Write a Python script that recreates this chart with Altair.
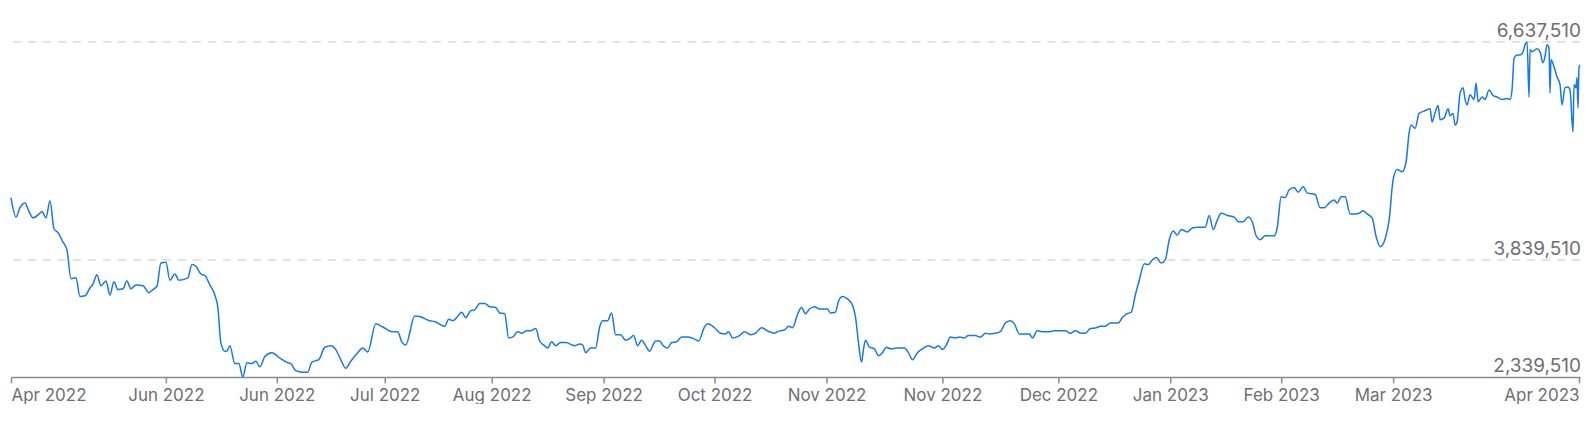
import altair as alt
import pandas as pd

# observation index (position along the series) and value in millions
t = [0, 1.25, 2.25, 3.5, 4.5, 5.5, 7.25, 7.75, 8.75, 9.75, 10.75, 11.75, 13, 14, 15, 16.25, 17.25, 18.5,
     19.75, 20.5, 21.5, 22.5, 23.75, 24.75, 25.75, 26.75, 28, 29, 30, 31.25, 33, 34.5, 35.5, 36.5, 37.5,
     38.75, 39.75, 41, 42, 44.25, 45.25, 46.25, 47.5, 48.5, 49.75, 51, 51.75, 52.5, 53.5, 54, 54.75, 56,
     57, 58, 59, 60.25, 61.25, 62.25, 63.5, 65.25, 67.25, 69.25, 70, 71.25, 73, 74.25, 75.25, 77, 78.5,
     80, 81.25, 82.5, 83.75, 85, 86.75, 88, 89.25, 91.25, 93, 95.25, 96.75, 97.75,
     98.75, 101, 102.5, 104.75, 106, 108.5, 109.5, 110.5, 111.5, 112.75, 113.75, 115, 116, 117.25, 118.5,
     119.75, 121.25, 122.25, 123.5, 124.5, 125.5, 126.75, 127.75, 129, 130, 131.25, 132.25, 133.25,
     134.25, 135.25, 136.25, 137.5, 138.75, 141, 142.25, 143, 143.75, 145, 146.25, 147.25, 148, 149.25,
     150.25, 151.25, 152.5, 153.75, 154.75, 155.75, 156.75, 157.75, 158.75, 159.75, 161.25, 162.25, 163,
     164.25, 165.25, 166.5, 167.75, 169.25, 170.75, 172, 173.5, 174.25, 176, 177.5, 178.75, 179.5, 180.5,
     182.25, 183.5, 185, 186.25, 187.75, 189.25, 191, 192.25, 193.5, 194.5, 195.5, 196.75, 197.75,
     198.75, 199.75, 201, 202.25, 204.25, 205, 206.25, 207, 208, 209.25, 210.5, 211.25, 212, 212.75,
     213.25, 213.75, 214.75, 216, 217, 218, 219, 220, 221.75, 223.5, 224.5, 225.5, 226.75, 228.25, 229.5,
     231, 232, 233, 234, 235, 236.25, 237.25, 238.5, 239.5, 241.25, 242.5, 243.75, 244.75, 246.25, 247.5,
     248.75, 250, 251, 252.25, 253.5, 254.75, 255.5, 256.75, 258, 259.75, 261, 263.75, 265, 266.25,
     267.75, 268.75, 270, 271.5, 272.5, 273.75, 275, 277, 278, 279.25, 280.25, 281.25, 282.25, 283.5,
     284.5, 285.5, 286.5, 287.75, 288.75, 289.75, 290.75, 291.75, 292.75, 294.25, 295.5, 296.75, 297.75,
     298.75, 299.75, 300.75, 301.75, 302.75, 304.25, 306, 307, 308.25, 309.5, 310.5, 311.5, 312.5,
     313.75, 316, 316.75, 317.75, 318.75, 319.75, 321, 322, 323.25, 324.25, 326.25, 327.5, 328.5, 329.75,
     331, 331.75, 332.75, 333.75, 335, 336.25, 337.25, 338.25, 339.25, 340.5, 341.5, 342.5, 343.75,
     344.75, 345.75, 346.75, 348, 349, 349.75, 350.25, 351.25, 352.25, 353.5, 355, 355.5, 356.25, 357,
     357.5, 358.5, 359.5, 360, 360.75, 361.25, 361.75, 362.5, 363.25, 363.75, 364.25, 365, 366, 366.5,
     367, 368, 368.75, 369.75, 370.75, 371.75, 373, 374.25, 375, 375.5, 376, 376.75, 377.5, 378.25,
     378.75, 379.25, 379.75, 380, 380.5, 381.75, 382.5, 383.25, 383.75, 384.25, 384.75, 385, 385.25, 386,
     386.75, 387.5, 388, 388.75, 389.5, 390, 390.75, 391, 391.5, 391.75, 392, 392.25, 392.5]

v = [4.64, 4.39, 4.51, 4.57, 4.46, 4.38, 4.44, 4.46, 4.38, 4.60, 4.24, 4.19, 4.07, 3.97, 3.60, 3.61, 3.37, 3.38,
     3.48, 3.53, 3.65, 3.51, 3.57, 3.39, 3.56, 3.46, 3.47, 3.57, 3.47, 3.52, 3.51, 3.42, 3.46, 3.50, 3.80,
     3.81, 3.58, 3.66, 3.58, 3.61, 3.78, 3.76, 3.66, 3.64, 3.52, 3.39, 3.23, 2.78, 2.67, 2.67, 2.74, 2.51,
     2.51, 2.34, 2.52, 2.51, 2.54, 2.47, 2.60, 2.65, 2.58, 2.52, 2.51, 2.42, 2.40, 2.40, 2.53, 2.56, 2.72,
     2.74, 2.69, 2.56, 2.45, 2.54, 2.65, 2.71, 2.66, 3.02, 2.98, 2.92, 2.92, 2.79,
     2.75, 3.12, 3.11, 3.06, 3.05, 2.99, 3.08, 3.06, 3.10, 3.17, 3.10, 3.19, 3.20, 3.28, 3.28,
     3.24, 3.23, 3.16, 3.15, 2.84, 2.85, 2.92, 2.90, 2.93, 2.93, 2.96, 2.80, 2.75,
     2.71, 2.79, 2.74, 2.78, 2.78, 2.74, 2.76, 2.75, 2.65, 2.71, 2.71, 2.98, 3.06, 3.06,
     3.16, 2.88, 2.88, 2.81, 2.83, 2.87, 2.74, 2.81, 2.74, 2.67, 2.80, 2.80, 2.75,
     2.71, 2.78, 2.79, 2.85, 2.85, 2.83, 2.80, 2.98, 3.02, 2.97, 2.90, 2.89, 2.92, 2.84,
     2.87, 2.92, 2.88, 2.90, 2.97, 2.93, 2.90, 2.93, 2.94, 2.99, 2.97, 3.14, 3.23,
     3.15, 3.21, 3.24, 3.21, 3.21, 3.16, 3.17, 3.31, 3.37, 3.34, 3.26, 3.11, 2.78, 2.53,
     2.69, 2.81, 2.72, 2.70, 2.61, 2.65, 2.72, 2.70, 2.71, 2.71, 2.65, 2.56, 2.65, 2.71, 2.74,
     2.71, 2.74, 2.69, 2.75, 2.85, 2.84, 2.85, 2.84, 2.87, 2.87, 2.85, 2.90, 2.89, 2.90, 2.92,
     3.03, 3.06, 3.02, 2.89, 2.89, 2.89, 2.84, 2.93, 2.92, 2.92, 2.93, 2.93, 2.90, 2.93,
     2.90, 2.90, 2.96, 2.97, 2.99, 2.99, 3.03, 3.03, 3.10, 3.15, 3.17, 3.39, 3.58, 3.79,
     3.78, 3.84, 3.87, 3.80, 3.84, 4.10, 4.21, 4.16, 4.23, 4.20, 4.25, 4.26, 4.26,
     4.26, 4.41, 4.23, 4.35, 4.44, 4.41, 4.39, 4.33, 4.33, 4.39, 4.33, 4.15, 4.10,
     4.15, 4.15, 4.25, 4.65, 4.64, 4.74, 4.77, 4.71, 4.78, 4.70, 4.68, 4.51, 4.51, 4.57,
     4.61, 4.57, 4.65, 4.65, 4.43, 4.43, 4.44, 4.47, 4.43, 4.38, 4.14, 4.01, 4.11,
     4.35, 4.87, 5.00, 4.97, 5.10, 5.47, 5.57, 5.53, 5.72, 5.75, 5.78, 5.61, 5.73, 5.82,
     5.64, 5.66, 5.78, 5.69, 5.72, 5.57, 5.61, 5.98, 6.05, 5.90, 5.83, 5.96, 5.90, 6.11,
     5.87, 5.93, 5.90, 6.02, 5.95, 5.93, 5.90, 5.91, 5.90, 6.02, 6.43, 6.47, 6.47, 6.51,
     6.60, 6.64, 5.93, 6.54, 6.51, 6.55, 6.51, 6.37, 6.45, 6.60, 6.56, 5.98, 6.41, 6.32,
     6.19, 6.09, 5.83, 6.05, 6.06, 6.02, 5.48, 6.09, 6.05, 6.18, 5.79, 6.31, 6.34]

tick_pos = [0, 38.75, 66.5, 93.5, 120.25, 148.25, 176, 204, 233, 262, 290, 317.75, 345.75, 392.25]
tick_labels = ["Apr 2022", "Jun 2022", "Jun 2022", "Jul 2022", "Aug 2022", "Sep 2022", "Oct 2022",
               "Nov 2022", "Nov 2022", "Dec 2022", "Jan 2023", "Feb 2023", "Mar 2023", "Apr 2023"]

level_values = [2.33951, 3.83951, 6.63751]
level_labels = ["2,339,510", "3,839,510", "6,637,510"]

W, H = 1570, 369
FONT = "Inter"
GREY = "#6e6e73"

series = pd.DataFrame({"t": t, "v": v})
levels = pd.DataFrame({"v": level_values, "label": level_labels})
grid = pd.DataFrame({"v": level_values[1:]})

label_expr = "[" + ",".join("'%s'" % s for s in tick_labels) + "][indexof([" + \
    ",".join(str(p) for p in tick_pos) + "], datum.value)]"

xscale = alt.Scale(domain=[0, 392.5], nice=False, zero=False)
yscale = alt.Scale(domain=[2.33951, 7.07091], nice=False, zero=False)

rules = alt.Chart(grid).mark_rule(color="#c6c6c6", strokeWidth=1, strokeDash=[8, 7]).encode(
    y=alt.Y("v:Q", scale=yscale, axis=None)
)

line = alt.Chart(series).mark_line(color="#1778e6", strokeWidth=1.5, interpolate="monotone").encode(
    x=alt.X("t:Q", scale=xscale,
            axis=alt.Axis(values=tick_pos, labelExpr=label_expr, title=None, grid=False,
                          domainColor="#8a8a8e", domainWidth=1.5, tickColor="#8a8a8e",
                          tickWidth=1.5, tickSize=6, labelColor=GREY, labelFont=FONT,
                          labelFontSize=17, labelPadding=5, labelFlush=True,
                          labelOverlap=False)),
    y=alt.Y("v:Q", scale=yscale, axis=None),
)

texts = alt.Chart(levels).mark_text(align="right", baseline="alphabetic", dy=-5,
                                    font=FONT, fontSize=19, color=GREY).encode(
    x=alt.value(W + 1),
    y=alt.Y("v:Q", scale=yscale, axis=None),
    text="label:N",
)

chart = alt.layer(rules, line, texts).properties(
    width=W, height=H, padding=0, background="white"
).configure_view(stroke=None)

chart.save("out.html", embed_options={"renderer": "svg", "actions": False})
